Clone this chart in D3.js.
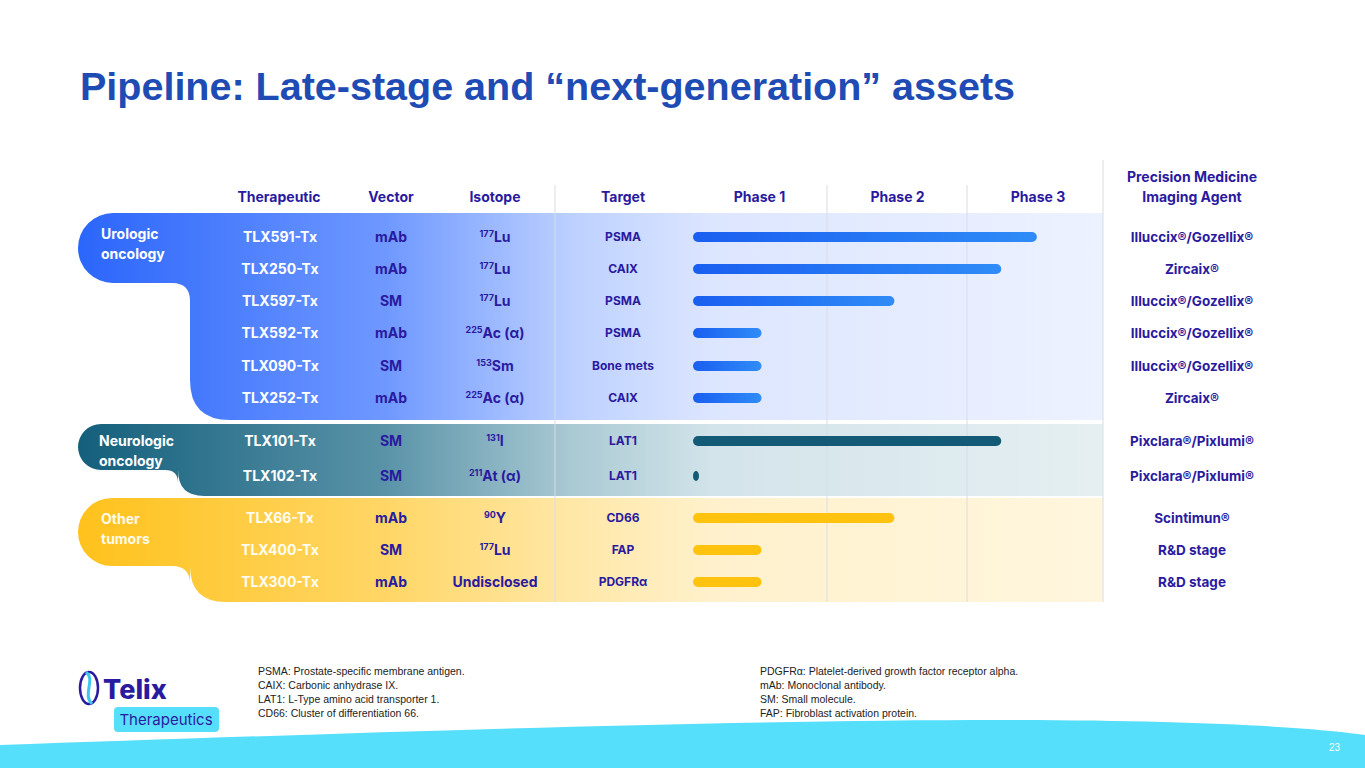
<!DOCTYPE html>
<html><head><meta charset="utf-8">
<script src="https://cdn.jsdelivr.net/npm/d3@7"></script>
<style>body{margin:0;background:#fff;font-family:Inter,"Open Sans",sans-serif}</style>
</head><body><svg id="c" width="1365" height="768"></svg>
<script>
const therapeutics=["TLX591-Tx","TLX250-Tx","TLX597-Tx","TLX592-Tx","TLX090-Tx","TLX252-Tx","TLX101-Tx","TLX102-Tx","TLX66-Tx","TLX400-Tx","TLX300-Tx"];
const vectors=["mAb","mAb","SM","mAb","SM","mAb","SM","SM","mAb","SM","mAb"];
const isoSup=["177","177","177","225","153","225","131","211","90","177",""];
const isoMain=["Lu","Lu","Lu","Ac (α)","Sm","Ac (α)","I","At (α)","Y","Lu","Undisclosed"];
const targets=["PSMA","CAIX","PSMA","PSMA","Bone mets","CAIX","LAT1","LAT1","CD66","FAP","PDGFRα"];
const progress=[2.51,2.25,1.47,0.5,0.5,0.5,2.25,0.04,1.47,0.5,0.5];
const agents=["Illuccix®/Gozellix®","Zircaix®","Illuccix®/Gozellix®","Illuccix®/Gozellix®","Illuccix®/Gozellix®","Zircaix®","Pixclara®/Pixlumi®","Pixclara®/Pixlumi®","Scintimun®","R&D stage","R&D stage"];
const groupIdx=[0,0,0,0,0,0,1,1,2,2,2];
const groups=["Urologic|oncology","Neurologic|oncology","Other|tumors"];
const phases=["Phase 1","Phase 2","Phase 3"];
const rowY=[237,269,301,333,366,398,441,476,518,550,582];

const svg=d3.select("#c");
const defs=svg.append("defs");
const navy="#2a1aa0";
const x=d3.scaleLinear().domain([0,3]).range([692,1103]);
const y=d3.scaleOrdinal().domain(therapeutics).range(rowY);

svg.append("text").attr("x",80).attr("y",100).attr("font-family","Liberation Sans, Arial").attr("font-weight",700).attr("font-size",39.5).attr("fill","#1f4bb5").text("Pipeline: Late-stage and “next-generation” assets");

const bandCfg=[
 {y0:213,yb:283,y1:420,bx:190,stops:[["0%","#2b66fb"],["30%","#6f98ff"],["48%","#bcd0ff"],["62%","#dde6ff"],["100%","#edf2ff"]],bar:["#1a5ff0","#2f8cf7"]},
 {y0:424,yb:470,y1:496,bx:178,stops:[["0%","#145f7c"],["30%","#5a93a8"],["48%","#a9c9d3"],["62%","#d3e4ea"],["100%","#e5eff2"]],bar:["#135a77","#135a77"]},
 {y0:498,yb:566,y1:602,bx:190,stops:[["0%","#ffc21c"],["30%","#ffd666"],["48%","#ffe7a6"],["62%","#fff1cc"],["100%","#fff6de"]],bar:["#ffc20e","#ffc20e"]}
];
bandCfg.forEach((b,i)=>{
 const g=defs.append("linearGradient").attr("id","bg"+i).attr("x1",0).attr("x2",1).attr("y1",0).attr("y2",0);
 b.stops.forEach(s=>g.append("stop").attr("offset",s[0]).attr("stop-color",s[1]));
 const bg=defs.append("linearGradient").attr("id","bar"+i).attr("x1",0).attr("x2",1);
 bg.append("stop").attr("offset","0%").attr("stop-color",b.bar[0]);
 bg.append("stop").attr("offset","100%").attr("stop-color",b.bar[1]);
 const r=(b.yb-b.y0)/2, R=Math.min(40,(b.y1-b.yb)), L=78, f=Math.min(18,(b.y1-b.yb)/2);
 const p=`M${L+r},${b.y0}H1103V${b.y1}H${b.bx+R}Q${b.bx},${b.y1} ${b.bx},${b.y1-R}V${b.yb+f}Q${b.bx},${b.yb} ${b.bx-f},${b.yb}H${L+r}A${r},${r} 0 0 1 ${L+r},${b.y0}Z`;
 svg.append("path").attr("d",p).attr("fill",`url(#bg${i})`);
 const lines=groups[i].split("|");
 const t=svg.append("text").attr("font-weight",700).attr("font-size",14).attr("fill",i==2?"#fffbe8":"#fff");
 lines.forEach((l,k)=>t.append("tspan").attr("x",i==1?99:101).attr("y",b.y0+(i==1?22:26)+k*20).text(l));
});

[555,827,967,1103].forEach(v=>svg.append("line").attr("x1",v).attr("x2",v).attr("y1",v==1103?160:185).attr("y2",602).attr("stroke","#d8dce6").attr("stroke-width",1));

const hdr=[["Therapeutic",279],["Vector",391],["Isotope",495],["Target",623]];
hdr.forEach(h=>svg.append("text").attr("x",h[1]).attr("y",202).attr("text-anchor","middle").attr("font-weight",700).attr("font-size",14).attr("fill",navy).text(h[0]));
phases.forEach((p,i)=>svg.append("text").attr("x",i==2?1038:(x(i)+x(i+1))/2+(i==0?-1:0)).attr("y",202).attr("text-anchor","middle").attr("font-weight",700).attr("font-size",14).attr("fill",navy).text(p));
["Precision Medicine","Imaging Agent"].forEach((t,k)=>svg.append("text").attr("x",1192).attr("y",182+k*20).attr("text-anchor","middle").attr("font-weight",700).attr("font-size",14).attr("fill",navy).text(t));

therapeutics.forEach((t,i)=>{
 const yy=y(t), gi=groupIdx[i];
 svg.append("text").attr("x",280).attr("y",yy+5).attr("text-anchor","middle").attr("font-weight",700).attr("font-size",14).attr("fill",gi==2?"#fffdf2":"#fff").text(t);
 svg.append("text").attr("x",391).attr("y",yy+5).attr("text-anchor","middle").attr("font-weight",700).attr("font-size",14).attr("fill",navy).text(vectors[i]);
 const it=svg.append("text").attr("x",495).attr("y",yy+5).attr("text-anchor","middle").attr("font-weight",700).attr("font-size",14).attr("fill",navy);
 if(isoSup[i]) it.append("tspan").attr("font-size",9).attr("dy",-5).text(isoSup[i]);
 it.append("tspan").attr("dy",isoSup[i]?5:0).text(isoMain[i]);
 svg.append("text").attr("x",623).attr("y",yy+4).attr("text-anchor","middle").attr("font-weight",700).attr("font-size",12).attr("fill",navy).text(targets[i]);
 const w=Math.max(x(progress[i])-x(0),6);
 svg.append("rect").attr("x",x(0)+1).attr("y",yy-5).attr("width",w).attr("height",10).attr("rx",5).attr("fill",`url(#bar${gi})`);
 svg.append("text").attr("x",1192).attr("y",yy+5).attr("text-anchor","middle").attr("font-weight",700).attr("font-size",13.5).attr("fill",navy).text(agents[i]);
});

svg.append("path").attr("d","M0,745 C300,735 700,720 1000,720 C1200,720 1320,728 1365,735 V768 H0 Z").attr("fill","#56dffb");
svg.append("text").attr("x",1340).attr("y",751).attr("text-anchor","end").attr("font-family","Liberation Sans, Arial").attr("font-size",10).attr("fill","#fff").text("23");

const fnL=["PSMA: Prostate-specific membrane antigen.","CAIX: Carbonic anhydrase IX.","LAT1: L-Type amino acid transporter 1.","CD66: Cluster of differentiation 66."];
const fnR=["PDGFRα: Platelet-derived growth factor receptor alpha.","mAb: Monoclonal antibody.","SM: Small molecule.","FAP: Fibroblast activation protein."];
[[fnL,258],[fnR,760]].forEach(([arr,xx])=>arr.forEach((s,k)=>svg.append("text").attr("x",xx).attr("y",675+k*14).attr("font-family","Liberation Sans, Arial").attr("font-size",10.5).attr("fill","#222").text(s)));

svg.append("ellipse").attr("cx",89).attr("cy",688).attr("rx",9).attr("ry",16).attr("fill","none").attr("stroke","#2a1aa0").attr("stroke-width",2.5);
svg.append("path").attr("d","M86,672 C96,680 82,694 92,704").attr("fill","none").attr("stroke","#3fc6f0").attr("stroke-width",3);
svg.append("text").attr("x",103).attr("y",699).attr("font-weight",800).attr("font-size",27).attr("fill","#2a1aa0").text("Telix");
svg.append("rect").attr("x",114).attr("y",707).attr("width",105).attr("height",25).attr("rx",4).attr("fill","#56dffb");
svg.append("text").attr("x",166).attr("y",725).attr("text-anchor","middle").attr("font-size",15).attr("fill","#2a1aa0").text("Therapeutics");
</script></body></html>
